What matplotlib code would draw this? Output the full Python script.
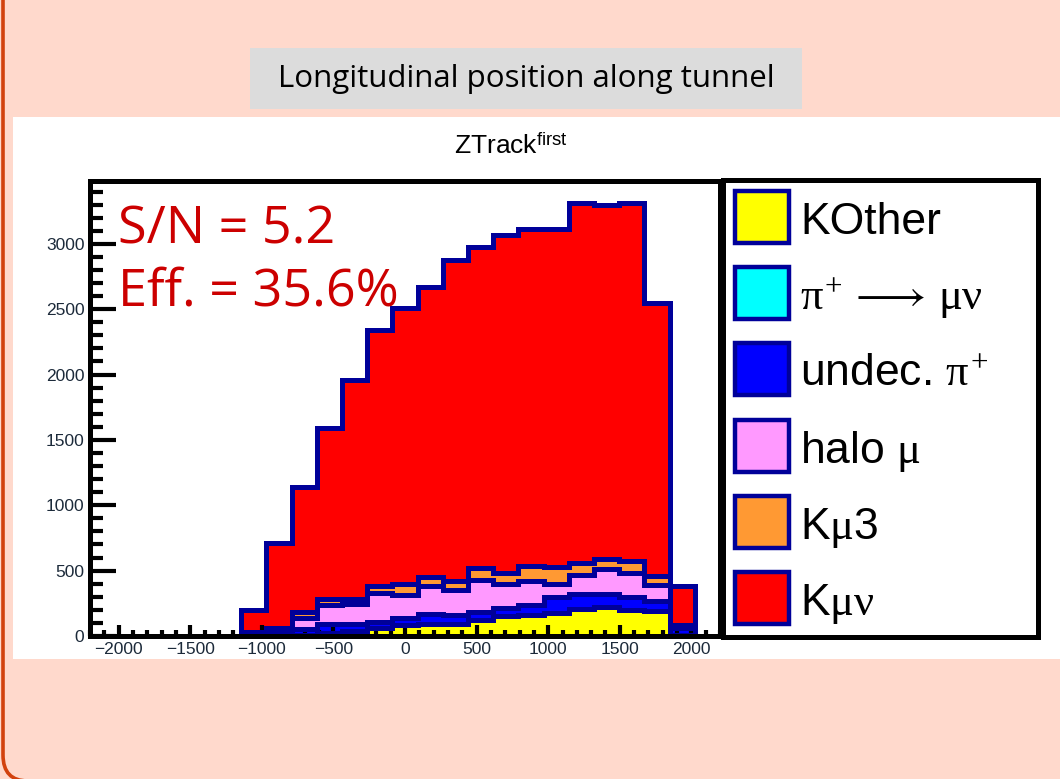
import numpy as np
import matplotlib
matplotlib.use("Agg")
import matplotlib.pyplot as plt
import matplotlib.patches as mpatches
from matplotlib.path import Path
from matplotlib.ticker import MultipleLocator

plt.rcParams['mathtext.fontset'] = 'custom'
plt.rcParams['mathtext.rm'] = 'Liberation Serif'
plt.rcParams['mathtext.it'] = 'Liberation Serif'
plt.rcParams['mathtext.sf'] = 'Liberation Sans'
plt.rcParams['mathtext.fallback'] = 'stix'

# ── Histogram data: 25 bins over [-2200, 2200] ───────────────────────────────
x_lo, x_hi, n_bins = -2200, 2200, 25
kother = [0, 0, 0, 0, 0, 0, 0, 5, 10, 25, 35, 60, 85, 90, 90, 125, 150, 160, 175, 205, 220, 200, 190, 10, 0]
pimunu = [0] * 25
undec  = [0, 0, 0, 0, 0, 0, 5, 15, 40, 70, 60, 50, 55, 80, 70, 60, 65, 75, 125, 120, 105, 100, 80, 50, 0]
halo   = [0, 0, 0, 0, 0, 0, 20, 35, 85, 145, 150, 220, 175, 215, 190, 240, 185, 185, 100, 140, 185, 180, 120, 15, 0]
kmu3   = [0, 0, 0, 0, 0, 0, 5, 10, 45, 40, 40, 55, 80, 70, 70, 95, 85, 115, 130, 95, 80, 95, 70, 10, 0]
kmunu  = [0, 0, 0, 0, 0, 0, 170, 650, 960, 1310, 1675, 1955, 2115, 2215, 2455, 2455, 2580, 2580, 2585, 2755, 2710, 2740, 2085, 295, 0]

labels = ['KOther', r'$\pi^{+}\,\longrightarrow\,\mu\nu$', r'undec. $\pi^{+}$', r'halo $\mu$', r'K$\mu$3', r'K$\mu\nu$']
series = [kother, pimunu, undec, halo, kmu3, kmunu]
colors = ['#ffff00', '#00ffff', '#0000ff', '#ff99ff', '#ff9933', '#ff0000']
NAVY = '#000099'

SN_TEXT  = 'S/N = 5.2'
EFF_TEXT = 'Eff. = 35.6%'

W, H = 1060, 779
fig = plt.figure(figsize=(W / 100, H / 100), dpi=100)
fig.patch.set_facecolor('#ffd9cc')

# ── slide decoration (pixel coords) ──────────────────────────────────────────
bg = fig.add_axes([0, 0, 1, 1], zorder=-5)
bg.set_xlim(0, W); bg.set_ylim(H, 0); bg.axis('off')
border = Path([(3, -5), (3, 755), (3, 781), (28, 781)],
              [Path.MOVETO, Path.LINETO, Path.CURVE3, Path.CURVE3])
bg.add_patch(mpatches.PathPatch(border, facecolor='none', edgecolor='#d2420e', linewidth=2.6))
bg.add_patch(mpatches.Rectangle((13, 117), 1100, 542, facecolor='white', edgecolor='none'))
bg.add_patch(mpatches.Rectangle((250, 48), 552, 61, facecolor='#dcdcdc', edgecolor='none'))
bg.text(526, 79, 'Longitudinal position along tunnel', ha='center', va='center',
        fontsize=22.5, family='Open Sans', color='black')
bg.text(511, 154, 'ZTrack$^{\\mathsf{first}}$', ha='center', va='baseline',
        fontsize=19, family='Liberation Sans', color='black')

# ── main histogram pad ───────────────────────────────────────────────────────
ax = fig.add_axes([90 / W, 1 - 636 / H, 630 / W, 455 / H])
edges = np.linspace(x_lo, x_hi, n_bins + 1)
cum = np.cumsum(np.array(series, dtype=float), axis=0)
for i in reversed(range(len(series))):
    ax.stairs(cum[i], edges, fill=True, color=colors[i], baseline=0, zorder=1)
    ax.stairs(cum[i], edges, color=NAVY, linewidth=3.6, baseline=0, zorder=2)

ax.set_xlim(x_lo, x_hi)
ax.set_ylim(0, 1.05 * cum[-1].max())
ax.xaxis.set_major_locator(MultipleLocator(500))
ax.xaxis.set_minor_locator(MultipleLocator(100))
ax.yaxis.set_major_locator(MultipleLocator(500))
ax.yaxis.set_minor_locator(MultipleLocator(100))
ax.tick_params(axis='y', which='major', direction='in', length=19, width=3, colors='black',
               labelcolor='#1c2a3a', labelsize=12.5, pad=4)
ax.tick_params(axis='y', which='minor', direction='in', length=9.5, width=3, colors='black')
ax.tick_params(axis='x', which='major', direction='in', length=8, width=3, colors='black',
               labelcolor='#1c2a3a', labelsize=12.5, pad=4)
ax.tick_params(axis='x', which='minor', direction='in', length=4, width=3, colors='black')
for lab in ax.get_xticklabels() + ax.get_yticklabels():
    lab.set_family('Liberation Sans')
for sp in ax.spines.values():
    sp.set_linewidth(3.6)
    sp.set_color('black')
    sp.set_zorder(5)

# S/N and efficiency labels, drawn on top of the pad
fig.text(118 / W, 1 - 244 / H, SN_TEXT, fontsize=37.5, family='Open Sans',
         color='#cc0000', va='baseline')
fig.text(118 / W, 1 - 305 / H, EFF_TEXT, fontsize=37.5, family='Open Sans',
         color='#cc0000', va='baseline')

# ── legend pad ───────────────────────────────────────────────────────────────
lg = fig.add_axes([723 / W, 1 - 637 / H, 315 / W, 457 / H])
lg.set_xlim(723, 1038); lg.set_ylim(637, 180)
lg.set_xticks([]); lg.set_yticks([])
for sp in lg.spines.values():
    sp.set_linewidth(3.6)
for k, (lab, col) in enumerate(zip(labels, colors)):
    yc = 217 + 76.2 * k
    lg.add_patch(mpatches.Rectangle((735, yc - 26), 54, 52, facecolor=col,
                                    edgecolor=NAVY, linewidth=3.2))
    lg.text(800, yc + 17, lab, fontsize=32, family='Liberation Sans', va='baseline', ha='left')

fig.savefig('out.png', dpi=100)
